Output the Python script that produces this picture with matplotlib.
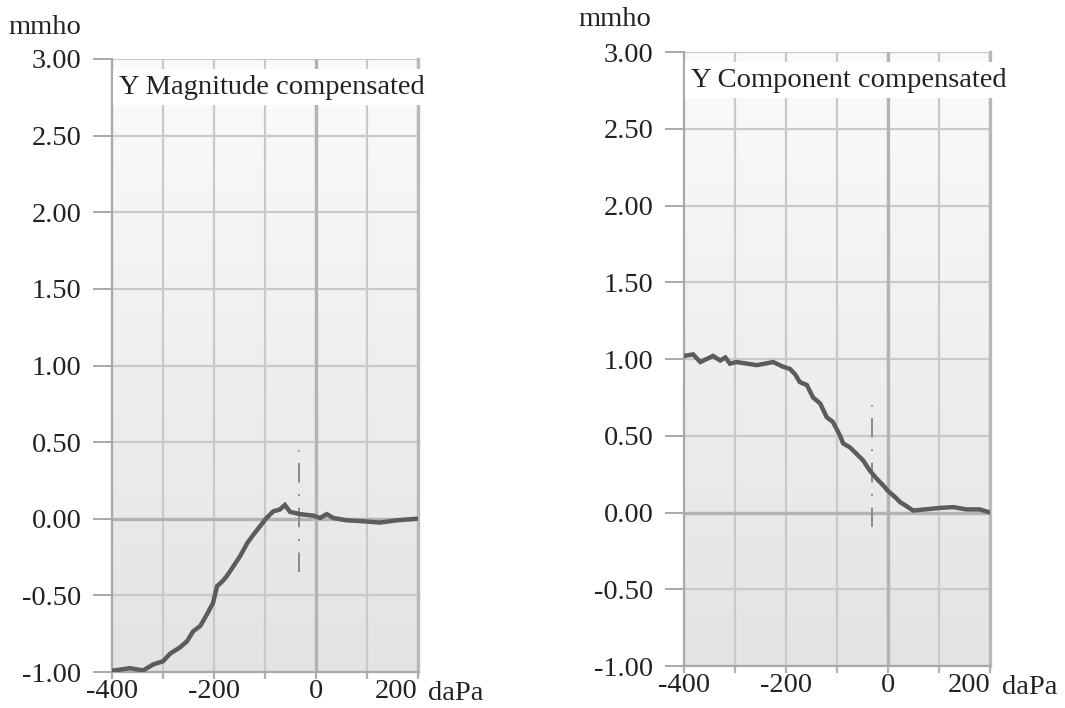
import numpy as np
import matplotlib
matplotlib.use("Agg")
import matplotlib.pyplot as plt
from matplotlib.colors import LinearSegmentedColormap

plt.rcParams['font.family'] = ['Liberation Serif', 'DejaVu Serif']
plt.rcParams['axes.unicode_minus'] = False

# pressure (daPa) / admittance (mmho)
mag_x = [-400, -396, -365, -339, -319, -300, -286, -267, -253, -241, -227, -214,
         -202, -194, -184, -175, -162, -149, -135, -123, -110, -97, -84, -71,
         -61, -51, -31, -5, 8, 21, 34, 60, 86, 125, 159, 198]
mag_y = [-0.99, -0.99, -0.975, -0.99, -0.95, -0.93, -0.88, -0.84, -0.80, -0.735, -0.70, -0.625,
         -0.55, -0.44, -0.41, -0.375, -0.31, -0.245, -0.16, -0.105, -0.05, 0.005, 0.048, 0.06,
         0.09, 0.045, 0.03, 0.02, 0.005, 0.03, 0.005, -0.01, -0.015, -0.025, -0.01, 0.0]

comp_x = [-400, -382, -368, -343, -329, -319, -310, -297, -257, -225, -206, -192,
          -182, -173, -159, -147, -133, -120, -108, -94, -88, -75, -61, -49,
          -35, -22, -9, 0, 14, 24, 37, 49, 63, 102, 128, 154, 180, 200]
comp_y = [1.02, 1.03, 0.98, 1.02, 0.99, 1.01, 0.97, 0.98, 0.96, 0.98, 0.95, 0.935,
          0.90, 0.85, 0.83, 0.75, 0.71, 0.62, 0.59, 0.50, 0.45, 0.425, 0.38, 0.34,
          0.27, 0.22, 0.175, 0.14, 0.10, 0.067, 0.04, 0.013, 0.017, 0.03, 0.035, 0.02, 0.02, 0.0]

# peak pressure markers (dash-dot vertical): x, y from, y to
mag_peak = [-33, -0.35, 0.45]
comp_peak = [-32, -0.095, 0.70]

titles = ["Y Magnitude compensated", "Y Component compensated"]
y_ticks = [-1.0, -0.5, 0.0, 0.5, 1.0, 1.5, 2.0, 2.5, 3.0]
x_ticks = [-400, -300, -200, -100, 0, 100, 200]
x_labels = ["-400", "", "-200", "", "0", "", "200"]

fig = plt.figure(figsize=(10.65, 7.08), dpi=100)
ax1 = fig.add_axes([112/1065, 1-672/708, 306/1065, 613/708])
ax2 = fig.add_axes([684/1065, 1-666/708, 306/1065, 614/708])

cmap = LinearSegmentedColormap.from_list('bg', ['#fbfbfb', '#e2e3e5'])
grid_c = '#c9c9c9'
line_c = '#5c5c5c'
txt_c = '#222222'
fs = 20.5

for ax, xs, ys, pk, title in [(ax1, mag_x, mag_y, mag_peak, titles[0]),
                              (ax2, comp_x, comp_y, comp_peak, titles[1])]:
    ax.imshow(np.linspace(0, 1, 256).reshape(-1, 1), extent=[-400, 200, -1, 3],
              aspect='auto', cmap=cmap, zorder=0)
    ax.set_xlim(-400, 200)
    ax.set_ylim(-1, 3)
    ax.set_xticks(x_ticks)
    ax.set_xticklabels(x_labels)
    ax.get_xticklabels()[-1].set_ha('right')
    ax.set_yticks(y_ticks)
    ax.set_yticklabels(['%.2f' % v for v in y_ticks])
    for v in y_ticks:
        ax.axhline(v, color=grid_c, lw=1.6, zorder=1)
    for v in x_ticks:
        ax.axvline(v, color=grid_c, lw=1.6, zorder=1)
    ax.axhline(0, color='#b3b3b3', lw=2.4, zorder=1)
    ax.axvline(0, color='#b3b3b3', lw=2.4, zorder=1)
    ax.spines['top'].set_visible(False)
    ax.spines['left'].set_color('#a9a9a9')
    ax.spines['left'].set_linewidth(1.6)
    ax.spines['bottom'].set_color('#a9a9a9')
    ax.spines['bottom'].set_linewidth(1.6)
    ax.spines['right'].set_color('#b8b8b8')
    ax.spines['right'].set_linewidth(2.4)
    ax.tick_params(axis='y', length=14, width=1.2, color='#9a9a9a', pad=8,
                   labelsize=fs, labelcolor=txt_c)
    ax.tick_params(axis='x', length=5, width=1.6, color='#b0b0b0', pad=0,
                   labelsize=fs, labelcolor=txt_c)
    ax.plot(xs, ys, color=line_c, lw=3.2, zorder=3, solid_joinstyle='miter')
    ax.plot([pk[0], pk[0]], [pk[1], pk[2]], color='#8a8a8a', lw=1.4,
            linestyle=(0, (10, 6, 1, 6)), zorder=2)
    ax.text(0.023, 0.954, title, transform=ax.transAxes, fontsize=fs, color=txt_c,
            va='center', ha='left', clip_on=False, zorder=4,
            bbox=dict(facecolor='white', edgecolor='none', pad=4))

fig.text(8/1065, 1-28/708, 'mmho', fontsize=fs, va='center', ha='left', color=txt_c)
fig.text(578/1065, 1-19/708, 'mmho', fontsize=fs, va='center', ha='left', color=txt_c)
fig.text(428/1065, 1-693/708, 'daPa', fontsize=fs, va='center', ha='left', color=txt_c)
fig.text(1002/1065, 1-688/708, 'daPa', fontsize=fs, va='center', ha='left', color=txt_c)

fig.savefig('out.png', dpi=100)
